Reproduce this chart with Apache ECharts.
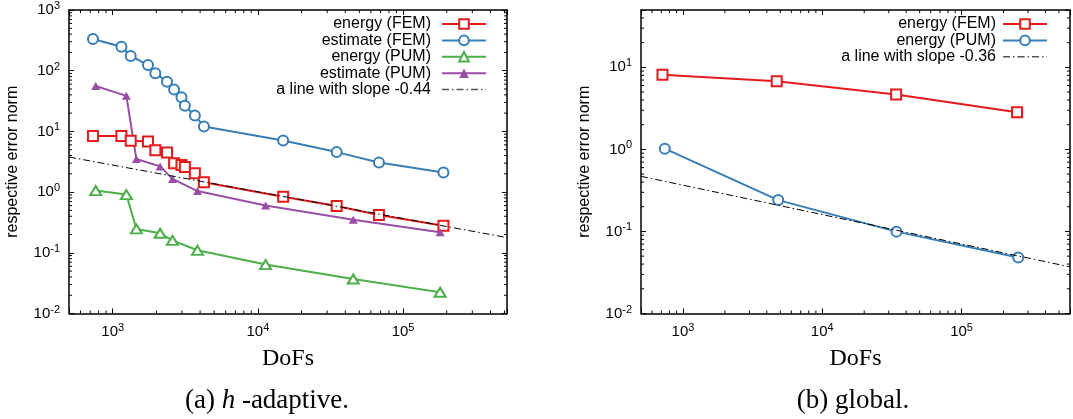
<!DOCTYPE html>
<html lang="en">
<head>
<meta charset="UTF-8">
<title>error norms vs DoFs</title>
<script src="https://cdn.jsdelivr.net/npm/echarts@6/dist/echarts.min.js"></script>
<style>
  html, body { margin: 0; padding: 0; background: #fff; }
  #chart { width: 1073px; height: 419px; }
</style>
</head>
<body>
<div id="chart"></div>
<script>
  // (a) h-adaptive
  const femDofs = [731, 1148, 1330, 1750, 1967, 2366, 2648, 2977, 3141, 3681, 4248, 14930, 34900, 68200, 189700];
  const femEnergy = [8.4, 8.4, 7.0, 6.8, 4.9, 4.5, 3.0, 2.8, 2.6, 2.05, 1.45, 0.84, 0.59, 0.42, 0.28];
  const femEstimate = [333, 248, 175, 124, 91, 66, 49, 36.5, 26.4, 18.3, 12.0, 7.1, 4.56, 3.08, 2.11];
  const pumDofs = [764, 1242, 1456, 2120, 2581, 3837, 11300, 45400, 180000];
  const pumEnergy = [1.06, 0.91, 0.247, 0.21, 0.16, 0.11, 0.064, 0.037, 0.0224];
  const pumEstimate = [56, 38.5, 3.5, 2.65, 1.65, 1.04, 0.6, 0.35, 0.218];
  const slopeADofs = [500, 520000];
  const slopeAVal = [3.78, 0.178];

  // (b) global
  const globFemDofs = [713, 4710, 33900, 250000];
  const globFemEnergy = [8.15, 6.76, 4.66, 2.84];
  const globPumDofs = [741, 4830, 34100, 255000];
  const globPumEnergy = [1.02, 0.241, 0.0995, 0.0482];
  const slopeBDofs = [500, 600000];
  const slopeBVal = [0.47, 0.037];

  const minorSteps = [2, 3, 4, 5, 6, 7, 8, 9];

  const SANS = '"Liberation Sans", Arial, sans-serif';
  const SERIF = '"Liberation Serif", "Times New Roman", serif';
  const RED = '#e41a1c', BLUE = '#377eb8', GREEN = '#4daf4a', PURPLE = '#984ea3';

  let chart = echarts.init(document.getElementById('chart'));

  function zip(xs, ys) { return xs.map((x, i) => [x, ys[i]]); }

  function minorTicks(lo, hi) {
    let out = [];
    for (let e = Math.floor(Math.log10(lo)); e <= Math.ceil(Math.log10(hi)); e++) {
      minorSteps.forEach(m => {
        let v = m * Math.pow(10, e);
        if (v > lo * 1.0001 && v < hi * 0.9999) out.push(v);
      });
    }
    return out;
  }

  function powLabel(v) {
    let e = Math.log10(v), r = Math.round(e);
    if (Math.abs(e - r) > 1e-6) return '';
    return '{b|10}{s|' + r + '}';
  }

  const labelRich = {
    b: { fontSize: 15, fontFamily: SANS, color: '#000', lineHeight: 19 },
    s: { fontSize: 11, fontFamily: SANS, color: '#000', verticalAlign: 'top', lineHeight: 11 }
  };

  function logAxis(grid, min, max, pos, main) {
    return {
      type: 'log', logBase: 10, gridIndex: grid, min: min, max: max, position: pos,
      axisLine: { show: true, onZero: false, lineStyle: { color: '#000', width: 1.5 } },
      axisTick: { show: true, inside: true, length: 5, lineStyle: { color: '#000', width: 1 } },
      axisLabel: main ? { show: true, formatter: powLabel, margin: 9, rich: labelRich } : { show: false },
      splitLine: { show: false },
      minorTick: { show: false }
    };
  }

  function tickSeries(xi, yi, items, dir) {
    return {
      type: 'custom', xAxisIndex: xi, yAxisIndex: yi, silent: true, clip: false, z: 5,
      data: items,
      renderItem: function (params, api) {
        let cs = params.coordSys;
        let p = api.coord([api.value(0), api.value(1)]);
        let st = { stroke: '#000', lineWidth: 1 };
        if (dir === 'x') {
          return { type: 'group', children: [
            { type: 'line', shape: { x1: p[0], y1: cs.y + cs.height, x2: p[0], y2: cs.y + cs.height - 3 }, style: st },
            { type: 'line', shape: { x1: p[0], y1: cs.y, x2: p[0], y2: cs.y + 3 }, style: st }
          ] };
        }
        return { type: 'group', children: [
          { type: 'line', shape: { x1: cs.x, y1: p[1], x2: cs.x + 3, y2: p[1] }, style: st },
          { type: 'line', shape: { x1: cs.x + cs.width, y1: p[1], x2: cs.x + cs.width - 3, y2: p[1] }, style: st }
        ] };
      }
    };
  }

  function dataLine(name, xi, yi, pts, color, symbol, size, hollow) {
    return {
      name: name, type: 'line', xAxisIndex: xi, yAxisIndex: yi, data: pts,
      symbol: symbol, symbolSize: size, showAllSymbol: true,
      lineStyle: { color: color, width: 2 },
      itemStyle: { color: color, borderWidth: hollow ? 2 : 0 },
      emphasis: { disabled: true }, z: 3
    };
  }

  function slopeLine(name, xi, yi, pts) {
    return {
      name: name, type: 'line', xAxisIndex: xi, yAxisIndex: yi, data: pts, symbol: 'none',
      lineStyle: { color: '#000', width: 1, type: [7, 3, 1.5, 3] },
      itemStyle: { color: '#555' },
      emphasis: { disabled: true }, z: 4
    };
  }

  // legend entry for the slope line: line sample only, no marker
  function plainEntry(name) {
    return { name: name, itemStyle: { color: 'rgba(0,0,0,0)', borderWidth: 0, opacity: 0 },
             lineStyle: { color: '#555', width: 1.5, opacity: 1 } };
  }

  const xMaxA = 520000, xMaxB = 600000;

  const legendText = { fontSize: 16, fontFamily: SANS, color: '#000', lineHeight: 16 };

  let option = {
    animation: false,
    backgroundColor: '#fff',
    grid: [
      { left: 69, top: 10, width: 438, height: 303.5 },
      { left: 641, top: 10, right: -13, height: 303.5 }
    ],
    xAxis: [
      Object.assign(logAxis(0, 500, xMaxA, 'bottom', true), {
        name: 'DoFs', nameLocation: 'middle', nameGap: 33,
        nameTextStyle: { fontFamily: SERIF, fontSize: 24, color: '#000' }
      }),
      logAxis(0, 500, xMaxA, 'top', false),
      Object.assign(logAxis(1, 500, xMaxB, 'bottom', true), {
        name: 'DoFs', nameLocation: 'middle', nameGap: 33,
        nameTextStyle: { fontFamily: SERIF, fontSize: 24, color: '#000' }
      }),
      logAxis(1, 500, xMaxB, 'top', false)
    ],
    yAxis: [
      Object.assign(logAxis(0, 0.01, 1000, 'left', true), {
        name: 'respective error norm', nameLocation: 'middle', nameGap: 48, nameRotate: 90,
        nameTextStyle: { fontFamily: SANS, fontSize: 16, color: '#000' }
      }),
      logAxis(0, 0.01, 1000, 'right', false),
      Object.assign(logAxis(1, 0.01, 50, 'left', true), {
        name: 'respective error norm', nameLocation: 'middle', nameGap: 48, nameRotate: 90,
        nameTextStyle: { fontFamily: SANS, fontSize: 16, color: '#000' }
      }),
      logAxis(1, 0.01, 50, 'right', false)
    ],
    legend: [
      {
        data: ['energy (FEM)', 'estimate (FEM)', 'energy (PUM)', 'estimate (PUM)', plainEntry('a line with slope -0.44')],
        orient: 'vertical', align: 'right', right: 586, top: 16, padding: 0,
        itemGap: 0.4, itemWidth: 44, itemHeight: 12, selectedMode: false,
        textStyle: Object.assign({ padding: [0, 6, 0, 0] }, legendText)
      },
      {
        data: ['energy (FEM)#b', 'energy (PUM)#b', plainEntry('a line with slope -0.36')],
        formatter: n => n.split('#')[0],
        orient: 'vertical', align: 'right', right: 25, top: 16, padding: 0,
        itemGap: 0.4, itemWidth: 44, itemHeight: 12, selectedMode: false,
        textStyle: Object.assign({ padding: [0, 2, 0, 0] }, legendText)
      }
    ],
    graphic: [
      {
        type: 'text', x: 267, y: 401,
        style: {
          text: '{n|(a) }{i|h}{n| -adaptive.}', align: 'center', verticalAlign: 'middle',
          rich: {
            n: { fontFamily: SERIF, fontSize: 27, fill: '#000' },
            i: { fontFamily: SERIF, fontSize: 27, fontStyle: 'italic', fill: '#000' }
          }
        }
      },
      {
        type: 'text', x: 853, y: 401,
        style: { text: '(b) global.', align: 'center', verticalAlign: 'middle', fontFamily: SERIF, fontSize: 27, fill: '#000' }
      }
    ],
    series: [
      dataLine('energy (FEM)', 0, 0, zip(femDofs, femEnergy), RED, 'emptyRect', 10, true),
      dataLine('estimate (FEM)', 0, 0, zip(femDofs, femEstimate), BLUE, 'emptyCircle', 10, true),
      dataLine('energy (PUM)', 0, 0, zip(pumDofs, pumEnergy), GREEN, 'emptyTriangle', [11, 9], true),
      dataLine('estimate (PUM)', 0, 0, zip(pumDofs, pumEstimate), PURPLE, 'triangle', [9, 8], false),
      slopeLine('a line with slope -0.44', 0, 0, zip(slopeADofs, slopeAVal)),
      dataLine('energy (FEM)#b', 2, 2, zip(globFemDofs, globFemEnergy), RED, 'emptyRect', 10, true),
      dataLine('energy (PUM)#b', 2, 2, zip(globPumDofs, globPumEnergy), BLUE, 'emptyCircle', 10, true),
      slopeLine('a line with slope -0.36', 2, 2, zip(slopeBDofs, slopeBVal)),
      tickSeries(0, 0, minorTicks(500, xMaxA).map(v => [v, 1]), 'x'),
      tickSeries(0, 0, minorTicks(0.01, 1000).map(v => [1000, v]), 'y'),
      tickSeries(2, 2, minorTicks(500, xMaxB).map(v => [v, 1]), 'x'),
      tickSeries(2, 2, minorTicks(0.01, 50).map(v => [1000, v]), 'y')
    ]
  };

  chart.setOption(option);
</script>
</body>
</html>
